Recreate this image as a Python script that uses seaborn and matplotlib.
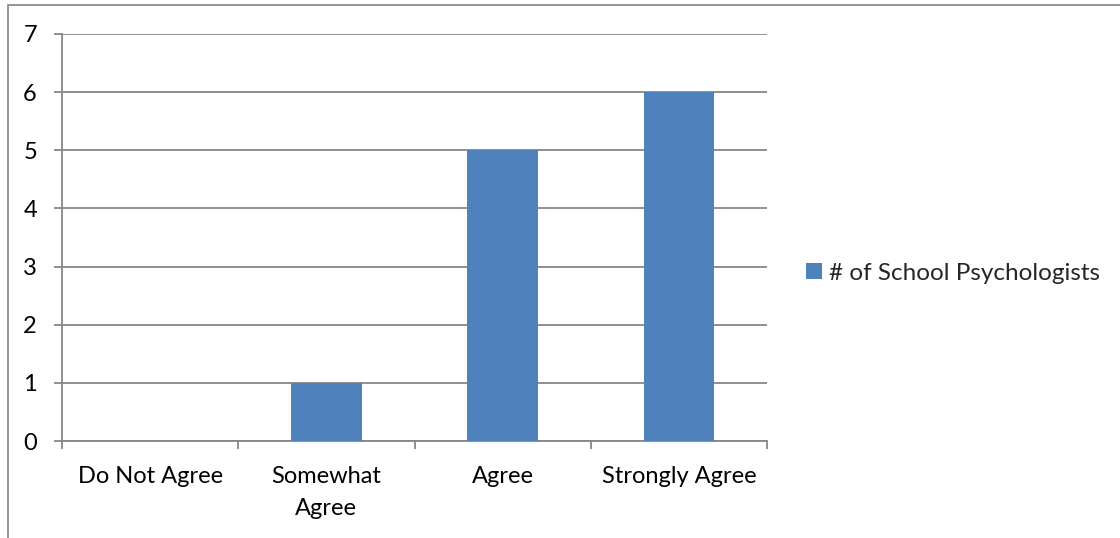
import matplotlib
matplotlib.use("Agg")
import matplotlib.pyplot as plt
import matplotlib.patches as mpatches
import seaborn as sns
import pandas as pd

categories = ["Do Not Agree", "Somewhat\nAgree", "Agree", "Strongly Agree"]
counts = [0, 1, 5, 6]
series_name = "# of School Psychologists"
y_ticks = [0, 1, 2, 3, 4, 5, 6, 7]

bar_color = "#4F81BD"
grid_color = "#878787"
font_size = 17

sns.set_style("white")
plt.rcParams["font.family"] = ["Lato", "DejaVu Sans"]

df = pd.DataFrame({"category": categories, "count": counts})

fig = plt.figure(figsize=(11.2, 5.38), dpi=100)
ax = fig.add_axes([62 / 1120, 1 - 441 / 538, 705 / 1120, 407 / 538])

sns.barplot(data=df, x="category", y="count", color=bar_color, width=0.4,
            saturation=1, linewidth=0, edgecolor="none", ax=ax, zorder=3)

ax.set_ylim(0, 7)
ax.set_xlim(-0.5, len(categories) - 0.5)
ax.set_yticks(y_ticks)
ax.set_yticklabels([str(v) for v in y_ticks])
ax.yaxis.grid(True, color=grid_color, linewidth=1.3, zorder=0)
ax.set_axisbelow(True)

for side in ["top", "right"]:
    ax.spines[side].set_visible(False)
for side in ["left", "bottom"]:
    ax.spines[side].set_color(grid_color)
    ax.spines[side].set_linewidth(1.3)

# category boundary ticks on the x axis, labels centred between them
ax.set_xticks([i - 0.5 for i in range(len(categories) + 1)], minor=False)
ax.set_xticklabels([])
ax.set_xticks(range(len(categories)), minor=True)
ax.set_xticklabels(categories, minor=True, fontsize=font_size, color="#000000",
                   linespacing=1.65)
ax.tick_params(axis="x", which="major", direction="out", length=6,
               width=1.3, color=grid_color, bottom=True)
ax.tick_params(axis="x", which="minor", length=0, pad=18)
ax.tick_params(axis="y", direction="out", length=6, width=1.3,
               color=grid_color, left=True, pad=12, labelsize=font_size,
               labelcolor="#000000")
ax.set_xlabel("")
ax.set_ylabel("")

handle = mpatches.Patch(facecolor=bar_color, edgecolor="none", label=series_name)
fig.legend(handles=[handle], loc="center left",
           bbox_to_anchor=(806 / 1120, 1 - 273 / 538), frameon=False,
           fontsize=font_size + 0.5, handlelength=0.65, handleheight=0.65,
           handletextpad=0.3, borderaxespad=0, borderpad=0)

# chart area border
border = mpatches.Rectangle((7.5 / 1120, -0.1), 1.2, 1 - 5.5 / 538 + 0.1,
                            transform=fig.transFigure, fill=False,
                            edgecolor="#8c8c8c", linewidth=1.3)
fig.patches.append(border)

fig.savefig("out.png", dpi=100)
